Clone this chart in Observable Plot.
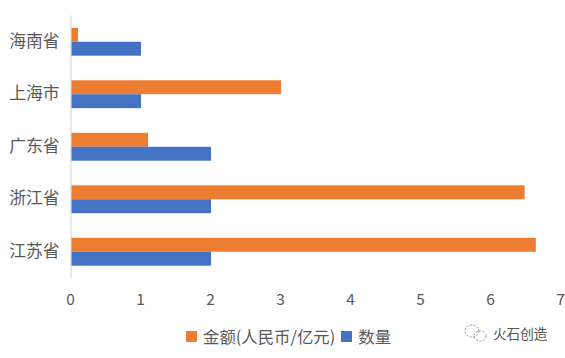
<!DOCTYPE html>
<html><head><meta charset="utf-8">
<script src="https://cdn.jsdelivr.net/npm/d3@7"></script>
<script src="https://cdn.jsdelivr.net/npm/@observablehq/plot@0.6"></script>
<style>
html,body{margin:0;padding:0;background:#fff;width:565px;height:358px;overflow:hidden}
body{position:relative;font-family:"Noto Sans CJK SC","Noto Sans",sans-serif;color:#595959}
#legend{position:absolute;left:186px;top:324px;display:flex;align-items:center;font-size:16.4px;line-height:24px;white-space:nowrap}
#legend i{display:inline-block;width:11px;height:11px;margin-right:6px}
#legend span{margin-right:6px}
#mark{position:absolute;left:462px;top:322px;display:flex;align-items:center;font-size:13.6px;line-height:22px;color:#555}
</style></head><body>
<div id="chart"></div>
<div id="legend"></div>
<div id="mark"><svg width="30" height="22" viewBox="0 0 30 22" style="margin-right:1px"><ellipse cx="10" cy="9" rx="7" ry="6" fill="none" stroke="#999" stroke-dasharray="2 1.5"/><ellipse cx="18" cy="14" rx="6" ry="5" fill="none" stroke="#999" stroke-dasharray="2 1.5"/></svg><span>火石创造</span></div>
<script>
const provinces = ["海南省","上海市","广东省","浙江省","江苏省"];
const seriesNames = ["金额(人民币/亿元)","数量"];
const amounts = [0.1,3,1.1,6.48,6.64];
const counts = [1,1,2,2,2];
const seriesColors = ["#ED7D31","#4472C4"];
const xTicks = [0,1,2,3,4,5,6,7];
const rows = provinces.flatMap((p,i)=>[
  {province:p,series:seriesNames[0],value:amounts[i]},
  {province:p,series:seriesNames[1],value:counts[i]}
]);
const chart = Plot.plot({
  width:565,height:310,
  marginLeft:71,marginRight:4,marginTop:15.5,marginBottom:32,
  style:{fontFamily:'"Noto Sans CJK SC","Noto Sans",sans-serif',color:"#595959",background:"#fff",overflow:"visible"},
  x:{domain:[0,7],ticks:xTicks,tickFormat:"d",tickSize:0,tickPadding:15,label:null},
  fy:{domain:provinces,padding:0,round:false,tickSize:0,tickPadding:12,label:null},
  y:{domain:seriesNames,axis:null,padding:0,round:false,inset:12.3},
  color:{domain:seriesNames,range:seriesColors},
  marks:[
    Plot.barX(rows,{x:"value",y:"series",fy:"province",fill:"series"}),
    Plot.ruleX([0],{stroke:"#d9d9d9",strokeWidth:1.2,dx:-0.5})
  ]
});
chart.querySelectorAll('[aria-label="x-axis tick label"] text').forEach(t=>{t.style.fontSize="15.5px";t.setAttribute("dx","-1")});
chart.querySelectorAll('[aria-label="fy-axis tick label"] text').forEach(t=>{t.style.fontSize="16.8px";t.setAttribute("dy","-1")});
document.getElementById("chart").append(chart);
const lg=document.getElementById("legend");
seriesNames.forEach((n,i)=>{
  const s=document.createElement("i");s.style.background=seriesColors[i];
  const t=document.createElement("span");t.textContent=n;
  lg.append(s,t);
});
</script></body></html>
